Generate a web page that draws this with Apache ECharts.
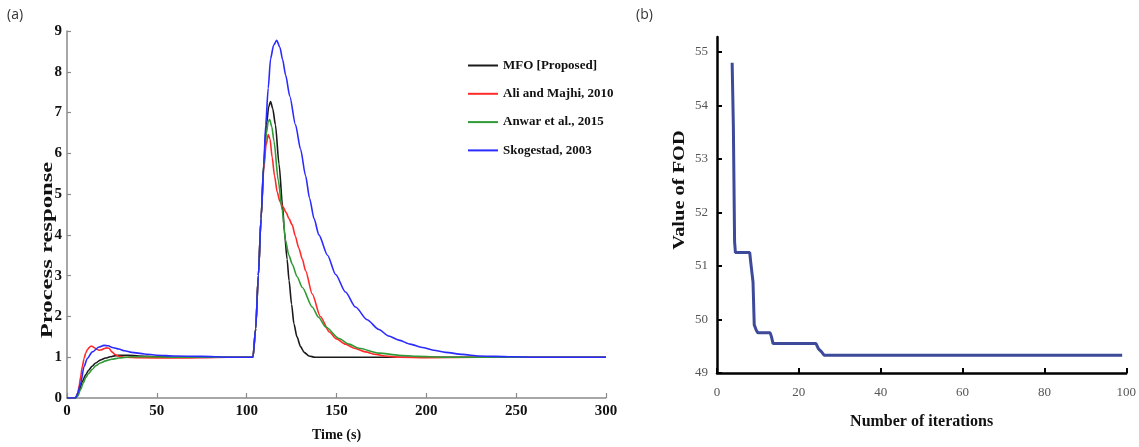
<!DOCTYPE html>
<html>
<head>
<meta charset="utf-8">
<title>Process response and FOD convergence</title>
<script src="https://cdn.jsdelivr.net/npm/echarts@6/dist/echarts.min.js"></script>
<style>
  html, body { margin: 0; padding: 0; background: #ffffff; }
  #chart { width: 1139px; height: 447px; }
</style>
</head>
<body>
<div id="chart"></div>
<script>
// ---- Panel (a): closed-loop process response of four tuning methods ----
const seriesNames = ['MFO [Proposed]', 'Ali and Majhi, 2010', 'Anwar et al., 2015', 'Skogestad, 2003'];

const mfoTime = [0, 4.5, 5.5, 7, 8.5, 10.4, 12, 14, 16, 18.5, 21.5, 24, 27, 30, 34, 40, 50, 60, 80, 103.5,
  105, 106.5, 108, 109.5, 111, 112.3, 113.3, 114.5, 116, 118, 120, 121, 122.5, 123.6, 125, 126.3, 128, 130,
  132, 134.7, 138, 160, 200, 250, 300];
const mfoResp = [0, 0, 0.04, 0.2, 0.4, 0.57, 0.68, 0.78, 0.86, 0.93, 0.98, 1.01, 1.04, 1.05, 1.05, 1.03, 1.01, 1.0, 1.0, 1.0,
  1.7, 3.0, 4.4, 5.75, 6.7, 7.15, 7.27, 7.1, 6.7, 5.74, 4.7, 4.09, 3.4, 2.88, 2.3, 1.82, 1.5, 1.26,
  1.12, 1.03, 1.0, 1.0, 1.0, 1.0, 1.0];

const aliTime = [0, 4.8, 6, 6.7, 7.6, 8.5, 9.5, 10.4, 11.3, 12.2, 13.2, 14, 15, 16.4, 17.8, 19.2, 20.6, 22, 23.4, 25,
  27, 29, 32, 40, 60, 75, 90, 103.5, 105, 106.5, 108, 109.5, 110.8, 112, 113, 114.2, 115.5, 117, 118.5, 120,
  122, 123.5, 125.4, 127, 129, 131, 132.8, 136.5, 141, 146, 150, 155, 160, 166, 172, 177, 185, 200, 230, 300];
const aliResp = [0, 0, 0.12, 0.28, 0.52, 0.77, 0.97, 1.1, 1.18, 1.23, 1.27, 1.27, 1.24, 1.2, 1.17, 1.18, 1.21, 1.23, 1.22, 1.13,
  1.06, 1.02, 1.0, 0.99, 0.98, 0.99, 1.0, 1.0, 1.7, 3.0, 4.4, 5.6, 6.2, 6.46, 6.35, 5.9, 5.45, 5.05, 4.82, 4.7,
  4.55, 4.4, 4.24, 3.98, 3.68, 3.4, 3.12, 2.55, 2.0, 1.62, 1.45, 1.32, 1.22, 1.13, 1.07, 1.03, 1.0, 0.99, 1.0, 1.0];

const anwarTime = [0, 4.8, 6, 7.5, 9, 10.4, 12, 14, 16, 18.5, 21.5, 25, 29, 33, 36, 45, 60, 103.5, 105, 106.5,
  108, 109.5, 111, 112, 112.8, 114, 115.2, 117.6, 119.8, 121.7, 123.5, 125.4, 128, 131, 136.5, 140, 144,
  151.4, 157, 162.5, 173.6, 184.7, 195, 210, 240, 300];
const anwarResp = [0, 0, 0.05, 0.2, 0.36, 0.5, 0.6, 0.7, 0.79, 0.86, 0.91, 0.95, 0.98, 1.0, 1.01, 1.01, 1.0, 1.0, 1.7, 3.0,
  4.4, 5.7, 6.5, 6.78, 6.83, 6.65, 6.3, 5.33, 4.6, 3.84, 3.5, 3.28, 2.98, 2.71, 2.23, 1.98, 1.74,
  1.46, 1.32, 1.22, 1.1, 1.05, 1.02, 1.0, 1.0, 1.0];

const skogTime = [0, 4.8, 6, 7.6, 9.5, 11.3, 14.1, 17.8, 20.6, 23, 25.2, 28.9, 32, 36, 43, 50, 60, 75, 90, 103.5,
  105, 106.5, 108, 109.5, 110.6, 112, 113.3, 115, 116.7, 118.5, 120, 121.7, 124, 127.2, 130, 132.8, 135, 137.5,
  140.2, 145, 149.5, 155, 160.6, 167, 173.6, 179, 184.7, 191, 197.7, 204, 210.7, 220, 229.3, 238, 247.8, 260, 300];
const skogResp = [0, 0, 0.12, 0.36, 0.77, 0.97, 1.13, 1.25, 1.29, 1.28, 1.24, 1.2, 1.16, 1.12, 1.08, 1.05, 1.03, 1.02, 1.0, 1.0,
  1.7, 3.0, 4.4, 5.7, 6.7, 7.6, 8.32, 8.65, 8.77, 8.6, 8.3, 7.92, 7.4, 6.7, 6.1, 5.45, 4.9, 4.4,
  4.0, 3.5, 3.03, 2.6, 2.23, 1.92, 1.68, 1.52, 1.42, 1.32, 1.24, 1.17, 1.12, 1.07, 1.03, 1.02, 1.01, 1.0, 1.0];

const timeTicks = [0, 50, 100, 150, 200, 250, 300];
const responseTicks = [0, 1, 2, 3, 4, 5, 6, 7, 8, 9];

// ---- Panel (b): best fitness (FOD) per iteration ----
const iterNo = [3.7, 3.8, 4.0, 4.3, 4.5, 8.0, 8.2, 8.5, 8.8, 9.1, 9.6, 10, 13, 13.3, 13.7, 24.2, 24.8, 25.5, 26.2, 99];
const fodValue = [54.8, 54.4, 53.6, 51.45, 51.25, 51.25, 51.1, 50.9, 50.7, 49.9, 49.8, 49.75, 49.75, 49.68, 49.55, 49.55,
  49.45, 49.4, 49.33, 49.33];
const fodTicks = [49, 50, 51, 52, 53, 54, 55];

const lineColors = ['#1a1a1a', '#ff2b2b', '#2f9a35', '#2b2bff'];

const zip = (xs, ys) => xs.map((x, i) => [x, ys[i]]);
const leftData = [zip(mfoTime, mfoResp), zip(aliTime, aliResp), zip(anwarTime, anwarResp), zip(skogTime, skogResp)];

const serifBold = { fontFamily: 'Liberation Serif', fontWeight: 'bold', color: '#111' };

const chart = echarts.init(document.getElementById('chart'), null, { renderer: 'canvas' });

chart.setOption({
  backgroundColor: '#ffffff',
  animation: false,
  legend: {
    data: seriesNames,
    orient: 'vertical',
    left: 463,
    top: 54,
    icon: 'rect',
    itemWidth: 30,
    itemHeight: 2,
    itemGap: 15.3,
    textStyle: Object.assign({ fontSize: 13 }, serifBold)
  },
  grid: [
    { left: 67, right: 533, top: 31, bottom: 45 },
    { left: 717, right: 11, top: 37, bottom: 74 }
  ],
  xAxis: [
    {
      gridIndex: 0, type: 'value', min: timeTicks[0], max: timeTicks[timeTicks.length - 1], interval: 50,
      name: 'Time (s)', nameLocation: 'middle', nameGap: 30,
      nameTextStyle: Object.assign({ fontSize: 14 }, serifBold),
      axisLine: { onZero: false, lineStyle: { color: '#8a8a8a', width: 1.5 } },
      axisTick: { inside: true, length: 5, lineStyle: { color: '#8a8a8a', width: 1.2 } },
      axisLabel: Object.assign({ fontSize: 15, margin: 6 }, serifBold),
      splitLine: { show: false }
    },
    {
      gridIndex: 1, type: 'value', min: 0, max: 100, interval: 20,
      name: 'Number of iterations', nameLocation: 'middle', nameGap: 41,
      nameTextStyle: Object.assign({ fontSize: 16 }, serifBold),
      axisLine: { onZero: false, lineStyle: { color: '#000', width: 2.5 } },
      axisTick: { inside: true, length: 5, lineStyle: { color: '#000', width: 2 } },
      axisLabel: { fontFamily: 'Liberation Serif', fontSize: 13, color: '#555', margin: 13 },
      splitLine: { show: false }
    }
  ],
  yAxis: [
    {
      gridIndex: 0, type: 'value', min: responseTicks[0], max: responseTicks[responseTicks.length - 1], interval: 1,
      axisLine: { onZero: false, lineStyle: { color: '#8a8a8a', width: 1.5 } },
      axisTick: { inside: true, length: 4, lineStyle: { color: '#8a8a8a', width: 1.2 } },
      axisLabel: Object.assign({ fontSize: 15, margin: 5 }, serifBold),
      splitLine: { show: false }
    },
    {
      gridIndex: 1, type: 'value', min: 49, max: 55.28, interval: 1,
      axisLine: { onZero: false, lineStyle: { color: '#000', width: 2.5 } },
      axisTick: { inside: true, length: 5, lineStyle: { color: '#000', width: 2 }, customValues: fodTicks },
      axisLabel: { fontFamily: 'Liberation Serif', fontSize: 13, color: '#555', margin: 9, customValues: fodTicks },
      splitLine: { show: false }
    }
  ],
  graphic: [
    { type: 'text', x: 7, y: 8, style: { text: '(a)', font: '14px "Open Sans", sans-serif', fill: '#333' } },
    { type: 'text', x: 636, y: 8, style: { text: '(b)', font: '14px "Open Sans", sans-serif', fill: '#333' } },
    {
      type: 'text', x: 48, y: 250, rotation: Math.PI / 2, scaleX: 1.45,
      style: { text: 'Process response', font: 'bold 17px "Liberation Serif"', fill: '#111', align: 'center', verticalAlign: 'middle' }
    },
    {
      type: 'text', x: 680, y: 190, rotation: Math.PI / 2, scaleX: 1.2,
      style: { text: 'Value of FOD', font: 'bold 17px "Liberation Serif"', fill: '#111', align: 'center', verticalAlign: 'middle' }
    }
  ],
  series: seriesNames.map((name, i) => ({
    name: name,
    type: 'line',
    xAxisIndex: 0,
    yAxisIndex: 0,
    data: leftData[i],
    symbol: 'none',
    smooth: 0.25,
    smoothMonotone: 'x',
    lineStyle: { color: lineColors[i], width: 1.6 },
    itemStyle: { color: lineColors[i] },
    z: 2 + i
  })).concat([{
    name: 'FOD',
    type: 'line',
    xAxisIndex: 1,
    yAxisIndex: 1,
    data: zip(iterNo, fodValue),
    symbol: 'none',
    lineStyle: { color: '#3d4a9a', width: 3 },
    itemStyle: { color: '#3d4a9a' }
  }])
});
</script>
</body>
</html>
